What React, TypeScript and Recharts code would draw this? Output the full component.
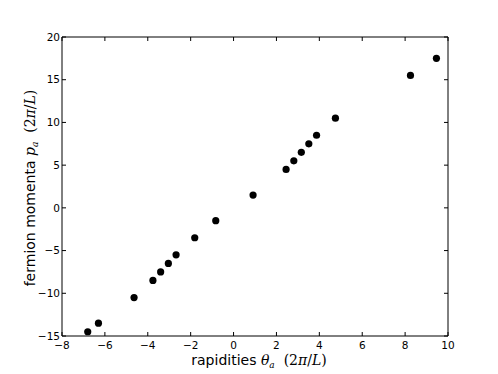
import React from "react";
import { ScatterChart, Scatter, XAxis, YAxis } from "recharts";

const rapidities = [-6.8, -6.3, -4.64, -3.76, -3.4, -3.04, -2.68, -1.81, -0.83, 0.91, 2.45, 2.81, 3.16, 3.51, 3.87, 4.75, 8.25, 9.46];
const momenta = [-14.5, -13.5, -10.5, -8.5, -7.5, -6.5, -5.5, -3.5, -1.5, 1.5, 4.5, 5.5, 6.5, 7.5, 8.5, 10.5, 15.5, 17.5];
const xTicks = [-8, -6, -4, -2, 0, 2, 4, 6, 8, 10];
const yTicks = [-15, -10, -5, 0, 5, 10, 15, 20];

const data = rapidities.map((x, i) => ({ x, y: momenta[i] }));

const FONT = "'DejaVu Sans', sans-serif";
const MATH = "'DejaVu Serif', 'Liberation Serif', serif";
const fmt = (v: number) => (v < 0 ? "\u2212" + Math.abs(v) : String(v));

const BottomTick = (p: any) => (
  <g>
    <line x1={p.x} x2={p.x} y1={p.y} y2={p.y - 4} stroke="#000" strokeWidth={1} />
    <text x={p.x} y={p.y + 12.5} textAnchor="middle" fontSize={10.5} fontFamily={FONT} fill="#000">
      {fmt(p.payload.value)}
    </text>
  </g>
);
const TopTick = (p: any) => (
  <line x1={p.x} x2={p.x} y1={p.y} y2={p.y + 4} stroke="#000" strokeWidth={1} />
);
const LeftTick = (p: any) => (
  <g>
    <line x1={p.x} x2={p.x + 4} y1={p.y} y2={p.y} stroke="#000" strokeWidth={1} />
    <text x={p.x - 2} y={p.y} dy="0.36em" textAnchor="end" fontSize={10.5} fontFamily={FONT} fill="#000">
      {fmt(p.payload.value)}
    </text>
  </g>
);
const RightTick = (p: any) => (
  <line x1={p.x} x2={p.x - 4} y1={p.y} y2={p.y} stroke="#000" strokeWidth={1} />
);

const XLabel = (props: any) => {
  const vb = props.viewBox;
  return (
    <text x={vb.x + vb.width / 2 + 4} y={vb.y + 29} textAnchor="middle" fontSize={14} fontFamily={FONT} fill="#000">
      rapidities{" "}
      <tspan fontFamily={MATH} fontStyle="italic">θ</tspan>
      <tspan fontFamily={MATH} fontStyle="italic" fontSize={9} dy={3}>a</tspan>
      <tspan fontFamily={MATH} dy={-3}>{"\u00a0\u00a0(2"}</tspan>
      <tspan fontFamily={MATH} fontStyle="italic">π</tspan>
      <tspan fontFamily={MATH}>/</tspan>
      <tspan fontFamily={MATH} fontStyle="italic">L</tspan>
      <tspan fontFamily={MATH}>)</tspan>
    </text>
  );
};

const YLabel = () => (
  <text x={0} y={0} transform="translate(35,188) rotate(-90)" textAnchor="middle" fontSize={14} fontFamily={FONT} fill="#000">
    fermion momenta{" "}
    <tspan fontFamily={MATH} fontStyle="italic">p</tspan>
    <tspan fontFamily={MATH} fontStyle="italic" fontSize={9} dy={3}>a</tspan>
    <tspan fontFamily={MATH} dy={-3}>{"\u00a0\u00a0(2"}</tspan>
    <tspan fontFamily={MATH} fontStyle="italic">π</tspan>
    <tspan fontFamily={MATH}>/</tspan>
    <tspan fontFamily={MATH} fontStyle="italic">L</tspan>
    <tspan fontFamily={MATH}>)</tspan>
  </text>
);

const Dot = (p: any) => <circle cx={p.cx} cy={p.cy} r={3.6} fill="#000" />;
const NoDot = () => <g />;

export default function App() {
  return (
    <div style={{ position: "absolute", left: 0, top: 0, width: 498, height: 374, background: "#fff" }}>
      <ScatterChart width={498} height={374} margin={{ top: 36, right: 49, bottom: 0, left: 0 }}>
        <XAxis
          xAxisId="b"
          dataKey="x"
          type="number"
          domain={[-8, 10]}
          ticks={xTicks}
          height={38}
          tickSize={0}
          tickMargin={0}
          tick={<BottomTick />}
          axisLine={{ stroke: "#000", strokeWidth: 1 }}
          tickLine={false}
          label={<XLabel />}
          allowDataOverflow
        />
        <XAxis
          xAxisId="t"
          dataKey="x"
          orientation="top"
          type="number"
          domain={[-8, 10]}
          ticks={xTicks}
          height={1}
          tickSize={0}
          tickMargin={0}
          tick={<TopTick />}
          axisLine={{ stroke: "#000", strokeWidth: 1 }}
          tickLine={false}
          allowDataOverflow
        />
        <YAxis
          yAxisId="l"
          dataKey="y"
          type="number"
          domain={[-15, 20]}
          ticks={yTicks}
          width={62}
          tickSize={0}
          tickMargin={0}
          tick={<LeftTick />}
          axisLine={{ stroke: "#000", strokeWidth: 1 }}
          tickLine={false}
          allowDataOverflow
        />
        <YAxis
          yAxisId="r"
          dataKey="y"
          orientation="right"
          type="number"
          domain={[-15, 20]}
          ticks={yTicks}
          width={1}
          tickSize={0}
          tickMargin={0}
          tick={<RightTick />}
          axisLine={{ stroke: "#000", strokeWidth: 1 }}
          tickLine={false}
          allowDataOverflow
        />
        <Scatter xAxisId="t" yAxisId="r" data={data} shape={<NoDot />} isAnimationActive={false} />
        <Scatter xAxisId="b" yAxisId="l" data={data} shape={<Dot />} isAnimationActive={false} />
      </ScatterChart>
      <svg width={498} height={374} style={{ position: "absolute", left: 0, top: 0, pointerEvents: "none" }}>
        <YLabel />
      </svg>
    </div>
  );
}
